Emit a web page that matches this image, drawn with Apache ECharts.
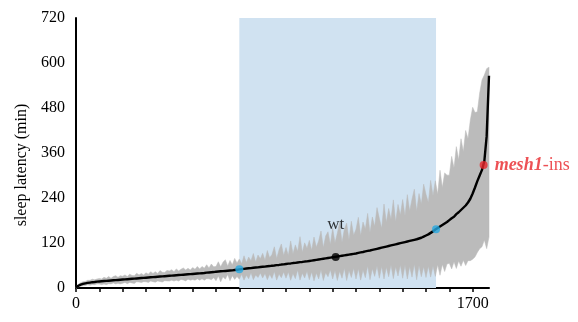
<!DOCTYPE html>
<html>
<head>
<meta charset="utf-8">
<script src="https://cdn.jsdelivr.net/npm/echarts@6/dist/echarts.min.js"></script>
<style>
  html, body { margin: 0; padding: 0; background: #fff; }
  #chart { width: 578px; height: 322px; }
</style>
</head>
<body>
<div id="chart"></div>
<script>
// Lines ranked by mean sleep latency; one sample every 10 ranks.
const rankStep = 10;

// Mean sleep latency (min) at each sampled rank
const meanLatency = [
  1, 6, 9, 11, 12.5, 13.5, 14.5, 15.5, 16, 17,
  17.5, 18, 18.5, 19, 19.5, 20, 20.5, 21, 21.5, 22,
  22.5, 23, 23.5, 24, 24.5, 25, 25.5, 26, 26.5, 27,
  27.5, 28, 28.5, 29, 29.5, 30, 30.5, 31, 31.5, 32,
  32.5, 33, 33.5, 34, 34.5, 35, 35.5, 36, 36.5, 37,
  37.5, 38, 38.5, 39, 39.5, 40, 41, 41.5, 42, 42.5,
  43.5, 44, 44.5, 45, 45.5, 46, 46.5, 47, 48, 48.5,
  49.5, 50.5, 51, 52, 52.5, 53, 54, 54.5, 55, 56,
  56.5, 57, 58, 58.5, 59.5, 60, 61, 61.5, 62.5, 63,
  64, 65, 65.5, 66.5, 67, 68, 69, 69.5, 70.5, 71,
  72, 73, 74, 75, 76, 77, 78, 79, 80, 81,
  82, 83, 84, 85, 86, 87, 88, 89, 90, 91,
  92, 93.5, 95, 96, 97.5, 99, 100, 101.5, 103, 104.5,
  106, 107.5, 109, 110.5, 112, 113.5, 115, 116.5, 118, 119.5,
  121, 122.5, 124, 125.5, 127, 128.5, 130, 132, 134, 137,
  140, 143, 147, 151, 156, 160, 164, 168, 172, 176,
  181, 186, 190, 197, 202, 208, 214, 220, 228, 238,
  252, 268, 285, 300, 315, 338, 405, 566
];

// Spread above the mean at each sampled rank
const spreadUp = [
  2, 4, 5, 6, 5, 7, 6, 8, 6, 7,
  8, 6, 10, 7, 11, 6, 10, 12, 7, 11,
  9, 12, 7, 13, 9, 8, 14, 9, 12, 8,
  13, 9, 15, 10, 14, 9, 16, 11, 10, 15,
  13, 16, 10, 17, 11, 15, 18, 12, 16, 11,
  17, 12, 19, 12, 18, 13, 21, 12, 22, 14,
  14, 26, 12, 24, 30, 13, 27, 15, 31, 18,
  28, 14, 35, 16, 30, 20, 38, 15, 33, 22,
  36, 17, 42, 22, 30, 50, 18, 40, 55, 24,
  44, 22, 60, 25, 48, 30, 68, 26, 50, 35,
  55, 28, 62, 34, 50, 75, 30, 60, 70, 35,
  78, 38, 62, 90, 36, 70, 85, 40, 88, 50,
  65, 95, 45, 80, 60, 100, 48, 88, 62, 110,
  80, 52, 115, 65, 100, 70, 120, 60, 105, 75,
  115, 70, 125, 80, 110, 135, 75, 120, 90, 140,
  110, 85, 140, 95, 130, 90, 150, 100, 135, 125,
  120, 165, 130, 180, 140, 190, 150, 200, 170, 210,
  230, 200, 185, 220, 240, 230, 180, 23
];

// Spread below the mean at each sampled rank
const spreadDown = [
  2, 3, 4, 5, 6, 5, 7, 6, 7, 6,
  7, 9, 8, 10, 8, 9, 7, 10, 9, 11,
  10, 8, 12, 9, 11, 13, 9, 10, 12, 10,
  11, 13, 10, 12, 14, 11, 13, 15, 12, 13,
  14, 12, 15, 13, 16, 12, 14, 17, 13, 16,
  15, 17, 14, 18, 15, 19, 16, 17, 20, 15,
  24, 12, 28, 15, 22, 10, 27, 14, 25, 18,
  26, 14, 30, 18, 28, 12, 32, 20, 27, 16,
  30, 18, 36, 22, 34, 16, 40, 24, 35, 20,
  38, 22, 45, 28, 42, 20, 48, 30, 44, 26,
  50, 30, 55, 35, 52, 28, 58, 38, 50, 32,
  58, 36, 64, 40, 60, 34, 68, 42, 62, 38,
  68, 42, 74, 48, 70, 40, 78, 50, 72, 46,
  80, 50, 85, 55, 82, 52, 90, 60, 86, 58,
  95, 62, 100, 68, 98, 65, 108, 72, 104, 80,
  112, 85, 118, 92, 125, 98, 130, 105, 128, 112,
  115, 135, 120, 145, 130, 150, 140, 160, 155, 165,
  175, 185, 190, 195, 205, 210, 300, 430
];

// Highlighted rank window and marked lines
const highlightRange = [700, 1543];
const edgePoints = [[700, 50], [1543, 157]];
const wtPoint = [1113, 83];
const mutantPoint = [1747, 328];
const xLabelTicks = [0, 1700];

const ranks = meanLatency.map((_, i) => i * rankStep);
const meanData = ranks.map((r, i) => [r, meanLatency[i]]);
// Band rows: [rank, lower bound, upper bound]
const bandRows = ranks.map((r, i) => [r, meanLatency[i] - spreadDown[i], meanLatency[i] + spreadUp[i]]);

const serif = '"Liberation Serif", "DejaVu Serif", serif';

// Whole spread band drawn as one polygon: upper edge left to right, lower edge back
function renderBand(params, api) {
  if (params.dataIndex !== 0) return null;
  const top = bandRows.map(d => api.coord([d[0], d[2]]));
  const bottom = bandRows.map(d => api.coord([d[0], d[1]])).reverse();
  return {
    type: 'polygon',
    shape: { points: top.concat(bottom) },
    style: { fill: '#bbbbbb', stroke: '#bbbbbb', lineWidth: 0.5 }
  };
}

const chart = echarts.init(document.getElementById('chart'));
chart.setOption({
  animation: false,
  grid: { left: 76, right: 89, top: 18, bottom: 34, containLabel: false },
  xAxis: {
    type: 'value', min: 0, max: 1770, interval: 100,
    axisLine: { show: true, lineStyle: { color: '#000', width: 2 } },
    axisTick: { show: true, length: 4, lineStyle: { color: '#000', width: 1.5 } },
    axisLabel: {
      color: '#000', fontFamily: serif, fontSize: 16, margin: 8,
      showMaxLabel: false,
      formatter: v => xLabelTicks.includes(v) ? String(v) : ''
    },
    splitLine: { show: false }
  },
  yAxis: {
    type: 'value', min: 0, max: 720, interval: 120,
    axisLine: { show: true, lineStyle: { color: '#000', width: 2 } },
    axisTick: { show: false },
    axisLabel: { color: '#000', fontFamily: serif, fontSize: 16, margin: 11 },
    splitLine: { show: false }
  },
  graphic: [{
    type: 'text', x: 22, y: 165, rotation: Math.PI / 2,
    style: {
      text: 'sleep latency (min)', font: '16px ' + serif, fill: '#000',
      align: 'center', verticalAlign: 'middle'
    }
  }],
  series: [
    {
      type: 'line', data: [], z: 1, silent: true,
      markArea: {
        silent: true,
        itemStyle: { color: '#d0e2f1' },
        data: [[{ xAxis: highlightRange[0] }, { xAxis: highlightRange[1] }]]
      }
    },
    {
      type: 'custom', data: bandRows, renderItem: renderBand, z: 2, silent: true,
      encode: { x: 0, y: [1, 2] }
    },
    {
      type: 'line', data: meanData, symbol: 'none', z: 4,
      lineStyle: { color: '#000', width: 2.4 }
    },
    {
      type: 'scatter', data: edgePoints, symbolSize: 8, z: 5,
      itemStyle: { color: '#27a9e1' }
    },
    {
      type: 'scatter', data: [wtPoint], symbolSize: 8, z: 5,
      itemStyle: { color: '#000' },
      label: {
        show: true, position: 'top', distance: 20, formatter: 'wt',
        color: '#000', fontFamily: serif, fontSize: 17
      }
    },
    {
      type: 'scatter', data: [mutantPoint], symbolSize: 8, z: 5,
      itemStyle: { color: '#e8262b' },
      label: {
        show: true, position: 'right', distance: 7,
        formatter: '{a|mesh1}{b|-ins}',
        rich: {
          a: { color: '#e8262b', fontFamily: serif, fontSize: 18, fontStyle: 'italic', fontWeight: 'bold' },
          b: { color: '#e8262b', fontFamily: serif, fontSize: 18 }
        }
      }
    }
  ]
});
</script>
</body>
</html>
